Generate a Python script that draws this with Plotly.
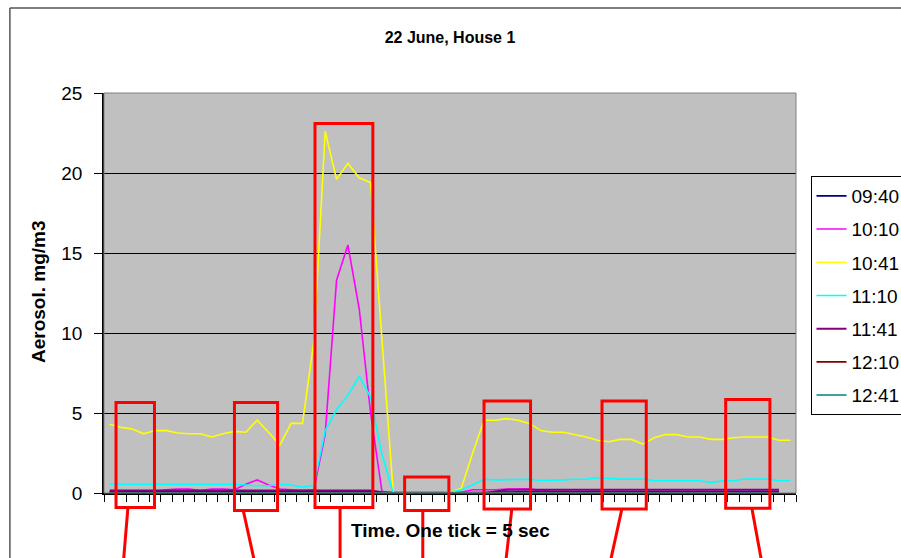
import plotly.graph_objects as go

# ---------------- data ----------------
series_names = ["09:40", "10:10", "10:41", "11:10", "11:41", "12:10", "12:41"]
series_colors = ["#000080", "#FF00FF", "#FFFF00", "#00FFFF", "#800080", "#800000", "#008080"]

n_ticks = 61  # one tick = 5 sec
time_idx = list(range(n_ticks))

s_0940 = [0.03, 0.03, 0.03, 0.03, 0.03, 0.03, 0.03, 0.03, 0.03, 0.03,
          0.03, 0.03, 0.03, 0.03, 0.03, 0.03, 0.03, 0.03, 0.03, 0.03,
          0.03, 0.03, 0.03, 0.03, 0.03, 0.0, 0.0, 0.0, 0.0, 0.0,
          0.0, 0.0, 0.0, 0.0, 0.03, 0.03, 0.03, 0.03, 0.03, 0.03,
          0.03, 0.03, 0.03, 0.03, 0.03, 0.03, 0.03, 0.03, 0.03, 0.03,
          0.03, 0.03, 0.03, 0.03, 0.03, 0.03, 0.03, 0.03, 0.03, 0.03]

s_1010 = [0.1, 0.1, 0.1, 0.1, 0.1, 0.2, 0.25, 0.25, 0.15, 0.25,
          0.25, 0.2, 0.55, 0.82, 0.5, 0.25, 0.2, 0.15, 0.2, 3.7,
          13.3, 15.5, 11.5, 5.0, 0.1, 0.0, 0.0, 0.0, 0.0, 0.0,
          0.0, 0.05, 0.2, 0.2, 0.2, 0.25, 0.27, 0.27, 0.15, 0.1,
          0.1, 0.1, 0.1, 0.1, 0.1, 0.1, 0.1, 0.1, 0.1, 0.1,
          0.1, 0.1, 0.1, 0.1, 0.1, 0.1, 0.1, 0.1, 0.1, 0.1]

s_1041 = [4.3, 4.1, 4.0, 3.7, 3.9, 3.9, 3.75, 3.7, 3.7, 3.5,
          3.7, 3.85, 3.8, 4.55, 3.8, 3.0, 4.35, 4.35, 9.5, 22.6,
          19.6, 20.6, 19.7, 19.4, 9.6, 0.0, 0.0, 0.0, 0.0, 0.0,
          0.05, 0.3, 2.5, 4.55, 4.55, 4.65, 4.55, 4.35, 3.9, 3.8,
          3.8, 3.65, 3.5, 3.3, 3.2, 3.35, 3.35, 3.05, 3.45, 3.65,
          3.65, 3.5, 3.5, 3.35, 3.35, 3.45, 3.5, 3.5, 3.5, 3.3, 3.3]

s_1110 = [0.55, 0.55, 0.55, 0.55, 0.55, 0.55, 0.55, 0.55, 0.55, 0.55,
          0.55, 0.55, 0.5, 0.45, 0.45, 0.55, 0.5, 0.35, 0.5, 3.9,
          5.2, 6.1, 7.3, 6.0, 2.4, 0.0, 0.0, 0.0, 0.0, 0.0,
          0.05, 0.2, 0.5, 0.86, 0.82, 0.82, 0.86, 0.86, 0.78, 0.78,
          0.82, 0.86, 0.86, 0.95, 0.9, 0.87, 0.87, 0.87, 0.77, 0.77,
          0.77, 0.77, 0.77, 0.65, 0.77, 0.77, 0.87, 0.87, 0.87, 0.77, 0.77]

s_1141 = [0.15, 0.15, 0.15, 0.15, 0.15, 0.15, 0.15, 0.15, 0.15, 0.15,
          0.15, 0.15, 0.15, 0.15, 0.15, 0.15, 0.15, 0.15, 0.15, 0.15,
          0.15, 0.15, 0.15, 0.15, 0.05, 0.0, 0.0, 0.0, 0.0, 0.0,
          0.0, 0.0, 0.0, 0.0, 0.1, 0.2, 0.2, 0.2, 0.2, 0.2,
          0.2, 0.2, 0.2, 0.2, 0.2, 0.2, 0.2, 0.2, 0.2, 0.2,
          0.2, 0.2, 0.2, 0.2, 0.2, 0.2, 0.2, 0.2, 0.2, 0.2]

s_1210 = [0.08, 0.08, 0.08, 0.08, 0.08, 0.08, 0.08, 0.08, 0.08, 0.08,
          0.08, 0.08, 0.08, 0.08, 0.08, 0.08, 0.08, 0.08, 0.08, 0.08,
          0.08, 0.08, 0.08, 0.08, 0.03, 0.0, 0.0, 0.0, 0.0, 0.0,
          0.0, 0.0, 0.0, 0.0, 0.05, 0.08, 0.08, 0.08, 0.08, 0.08,
          0.08, 0.08, 0.08, 0.08, 0.08, 0.08, 0.08, 0.08, 0.08, 0.08,
          0.08, 0.08, 0.08, 0.08, 0.08, 0.08, 0.08, 0.08, 0.08, 0.08]

s_1241 = [0.0, 0.0, 0.0, 0.0, 0.0, 0.0, 0.0, 0.0, 0.0, 0.0,
          0.0, 0.0, 0.0, 0.0, 0.0, 0.0, 0.0, 0.0, 0.0, 0.0,
          0.0, 0.0, 0.0, 0.0, 0.0, 0.0, 0.0, 0.0, 0.0, 0.0,
          0.0, 0.0, 0.0, 0.0, 0.0, 0.0, 0.0, 0.0, 0.0, 0.0,
          0.0, 0.0, 0.0, 0.0, 0.0, 0.0, 0.0, 0.0, 0.0, 0.0,
          0.0, 0.0, 0.0, 0.0, 0.0, 0.0, 0.0, 0.0, 0.0, 0.0]

series_values = [s_0940, s_1010, s_1041, s_1110, s_1141, s_1210, s_1241]

# highlighted regions (in tick units / mg/m3)
box_x0 = [0.56, 11.0, 18.1, 26.0, 33.0, 43.4, 54.3]
box_x1 = [3.95, 14.8, 23.2, 29.9, 37.1, 47.3, 58.2]
box_y0 = [-0.9, -1.1, -0.9, -1.1, -1.0, -1.0, -0.95]
box_y1 = [5.65, 5.65, 23.1, 1.0, 5.75, 5.75, 5.85]
lead_x_start = [1.61, 11.78, 20.31, 27.6, 35.45, 45.15, 56.61]
lead_x_end = [1.2, 12.8, 20.31, 27.6, 34.9, 44.1, 57.5]
lead_y_end = -4.4

# ---------------- figure ----------------
X_MIN, X_MAX = -0.5, n_ticks - 0.5
Y_MIN, Y_MAX = 0, 25


def xp(v):
    return (v - X_MIN) / (X_MAX - X_MIN)


def yp(v):
    return (v - Y_MIN) / (Y_MAX - Y_MIN)


fig = go.Figure()
for name, col, vals in zip(series_names, series_colors, series_values):
    fig.add_trace(go.Scatter(
        x=time_idx[:len(vals)], y=vals, mode="lines", name=name,
        legendgroup=name,
        line=dict(color=col, width=2 if name == "11:41" else 1.6),
    ))

shapes = []
# outer chart frame (top and left edges; the rest lies off the page)
shapes.append(dict(type="line", xref="paper", yref="paper",
                   x0=-0.136, x1=1.3, y0=1.2125, y1=1.2125,
                   line=dict(color="#555555", width=1.5), layer="below"))
shapes.append(dict(type="line", xref="paper", yref="paper",
                   x0=-0.136, x1=-0.136, y0=-0.3, y1=1.2125,
                   line=dict(color="#555555", width=1.5), layer="below"))
# plot area border (top/right)
shapes.append(dict(type="rect", xref="paper", yref="paper",
                   x0=0, x1=1, y0=0, y1=1,
                   line=dict(color="#808080", width=1), layer="above"))
for a, b, c, d in zip(box_x0, box_x1, box_y0, box_y1):
    shapes.append(dict(type="rect", xref="paper", yref="paper",
                       x0=xp(a), x1=xp(b), y0=yp(c), y1=yp(d),
                       line=dict(color="#FF0000", width=3), layer="above"))
for s, e, c in zip(lead_x_start, lead_x_end, box_y0):
    shapes.append(dict(type="line", xref="paper", yref="paper",
                       x0=xp(s), x1=xp(e), y0=yp(c), y1=yp(lead_y_end),
                       line=dict(color="#FF0000", width=3), layer="above"))

FONT = "Liberation Sans, Arial, sans-serif"

fig.update_layout(
    width=901, height=558,
    margin=dict(l=104, r=105, t=93, b=65, autoexpand=False),
    paper_bgcolor="white",
    plot_bgcolor="#C0C0C0",
    font=dict(family=FONT, color="black"),
    title=dict(text="<b>22 June, House 1</b>", x=0.5, xref="paper", xanchor="center",
               y=1 - 37 / 558, yanchor="middle", font=dict(size=16, family=FONT)),
    xaxis=dict(range=[X_MIN, X_MAX], tickmode="linear", tick0=X_MIN, dtick=1,
               ticks="outside", ticklen=7, tickcolor="black", tickwidth=1,
               showticklabels=False, showgrid=False, zeroline=False,
               showline=True, linecolor="black", linewidth=2),
    yaxis=dict(range=[Y_MIN, Y_MAX], tickmode="linear", tick0=0, dtick=5,
               ticks="outside", ticklen=8, tickcolor="black",
               ticklabelstandoff=8,
               tickfont=dict(size=19, family=FONT),
               showgrid=True, gridcolor="black", gridwidth=1, zeroline=False,
               showline=True, linecolor="black", linewidth=1.5),
    legend=dict(x=(810.5 - 104) / 692, xanchor="left", y=(493 - 176) / 400, yanchor="top",
                bgcolor="white", bordercolor="black", borderwidth=1,
                font=dict(size=19, family=FONT), tracegroupgap=5.5,
                itemwidth=30),
    shapes=shapes,
    annotations=[
        dict(text="<b>Time. One tick = 5 sec</b>", xref="paper", yref="paper",
             x=0.5, y=(493 - 530) / 400, xanchor="center", yanchor="middle",
             showarrow=False, font=dict(size=19, family=FONT)),
        dict(text="<b>Aerosol. mg/m3</b>", xref="paper", yref="paper",
             x=(38 - 104) / 692, y=(493 - 292) / 400, xanchor="center", yanchor="middle",
             textangle=-90, showarrow=False, font=dict(size=19, family=FONT)),
    ],
)

fig.write_html(
    "out.html",
    config={"displayModeBar": False},
    post_script="document.body.style.margin='0';document.body.style.overflow='hidden';",
)
